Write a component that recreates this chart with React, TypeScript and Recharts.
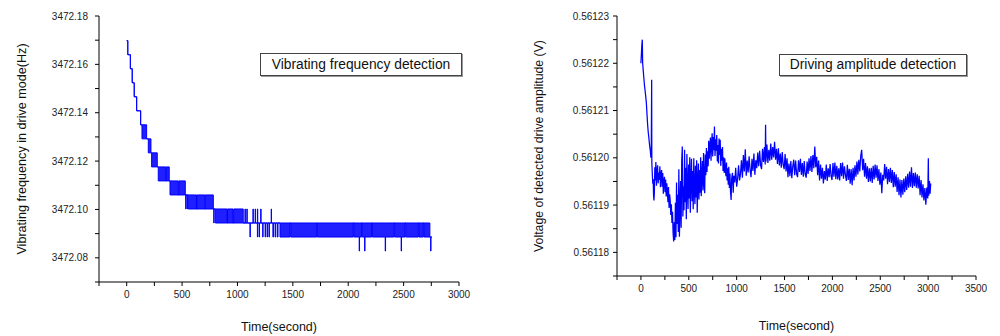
import React from 'react';
import { ComposedChart, Area, Line, XAxis, YAxis } from 'recharts';

const FONT = '"Liberation Sans", Arial, Helvetica, sans-serif';
const BLUE = '#0000ff';

// quantised frequency levels seen in the left trace (Hz)
const freqLevels = [
  3472.1698, 3472.164, 3472.1582, 3472.1524, 3472.1466, 3472.1408, 3472.135, 3472.1292,
  3472.1234, 3472.1176, 3472.1118, 3472.106, 3472.1002, 3472.0944, 3472.0886, 3472.0828,
];

// [time (s), low level index, high level index] - the reading toggles between low and high
const freqSteps: [number, number, number][] = [
  [0, 0, 0], [10, 1, 1], [33, 2, 2], [50, 3, 3], [68, 4, 4], [90, 5, 5], [126, 6, 6],
  [138, 7, 6], [180, 7, 7], [195, 8, 7], [219, 8, 8], [225, 9, 8], [276, 9, 9],
  [285, 10, 9], [352, 10, 10], [358, 10, 9], [384, 10, 10],
  [391, 11, 10], [466, 11, 11], [472, 11, 10], [529, 11, 11],
  [533, 12, 11], [535, 11, 11], [545, 12, 11], [548, 11, 11], [556, 12, 11],
  [630, 12, 12], [636, 12, 11], [705, 12, 12], [710, 12, 11], [782, 12, 12],
  [786, 13, 12], [789, 12, 12], [800, 13, 12], [905, 13, 13], [910, 13, 12],
  [960, 13, 13], [966, 13, 12], [1052, 13, 13],
  [1068, 13, 12], [1071, 13, 13], [1085, 13, 12], [1088, 13, 13], [1113, 14, 13], [1116, 13, 13],
  [1140, 13, 12], [1143, 13, 13], [1160, 13, 12], [1163, 13, 13], [1180, 14, 12], [1183, 13, 13],
  [1196, 14, 13], [1199, 13, 13], [1210, 13, 12], [1213, 13, 13], [1228, 14, 13], [1231, 13, 13],
  [1250, 14, 13], [1254, 13, 13], [1268, 14, 13], [1272, 13, 13], [1285, 14, 13], [1288, 13, 13],
  [1305, 13, 12], [1307, 13, 13], [1320, 14, 13], [1325, 13, 13], [1340, 14, 13], [1345, 13, 13],
  [1360, 14, 13], [1366, 13, 13], [1384, 14, 13],
  [1474, 13, 13], [1481, 14, 13], [1715, 13, 13], [1721, 14, 13], [2045, 13, 13], [2051, 14, 13],
  [2099, 15, 13], [2102, 14, 13], [2121, 13, 13], [2127, 14, 13], [2148, 15, 13], [2151, 14, 13],
  [2211, 13, 13], [2218, 14, 13], [2334, 15, 13], [2337, 14, 13], [2412, 13, 13], [2419, 14, 13],
  [2478, 15, 13], [2481, 14, 13], [2512, 13, 13], [2519, 14, 13], [2632, 13, 13], [2638, 14, 13],
  [2677, 13, 13], [2683, 14, 13], [2737, 14, 14], [2744, 15, 14], [2747, 14, 14], [2755, 14, 14],
];

// [time (s), detected drive amplitude (V)]
const ampReadings: [number, number][] = [
  [0, 0.56122], [5, 0.561222], [10, 0.561224], [14, 0.561225], [18, 0.56122], [24, 0.5612185],
  [30, 0.561217], [36, 0.5612155], [42, 0.5612145], [50, 0.561213], [57, 0.5612115], [64, 0.561209],
  [70, 0.561207], [76, 0.5612055], [84, 0.561204], [91, 0.5612025], [98, 0.5612015], [104, 0.5612],
  [108, 0.561201], [112, 0.5612165], [114, 0.561199], [119, 0.5611965], [124, 0.5611945], [128, 0.5611955],
  [132, 0.561192], [136, 0.561191], [140, 0.5611925], [145, 0.561198], [150, 0.5611952], [156, 0.5611991],
  [162, 0.5611941], [168, 0.561197], [174, 0.5611984], [180, 0.5611946], [186, 0.5611969], [192, 0.5611953],
  [198, 0.5611982], [204, 0.5611938], [210, 0.5611965], [216, 0.5611974], [222, 0.5611939], [228, 0.5611968],
  [234, 0.5611924], [240, 0.5611951], [246, 0.561196], [252, 0.5611927], [258, 0.5611954], [264, 0.5611918],
  [270, 0.5611946], [276, 0.5611929], [282, 0.5611906], [288, 0.5611938], [294, 0.5611894], [300, 0.5611923],
  [306, 0.5611909], [312, 0.5611879], [318, 0.5611902], [324, 0.5611862], [330, 0.5611886], [336, 0.5611841],
  [342, 0.5611823], [348, 0.5611864], [354, 0.5611826], [360, 0.5611905], [366, 0.5611832], [372, 0.5611948],
  [378, 0.561186], [384, 0.5611922], [390, 0.5611843], [396, 0.5611976], [402, 0.5611833], [408, 0.5611898],
  [414, 0.5611951], [420, 0.5611852], [426, 0.5611994], [432, 0.5612024], [438, 0.5611876], [444, 0.561194],
  [450, 0.5611889], [456, 0.5612017], [462, 0.5611906], [468, 0.5611979], [474, 0.561187], [480, 0.5612008],
  [486, 0.5611935], [492, 0.5611892], [498, 0.5611986], [504, 0.5611914], [510, 0.5612001], [516, 0.5611884],
  [522, 0.5611956], [528, 0.5611998], [534, 0.5611908], [540, 0.5611972], [546, 0.5611891], [552, 0.5611999],
  [558, 0.5611934], [564, 0.5611902], [570, 0.5611983], [576, 0.5611916], [582, 0.5611995], [588, 0.5611884],
  [594, 0.5611949], [600, 0.5611988], [606, 0.5611912], [612, 0.5611974], [618, 0.5611926], [624, 0.5612001],
  [630, 0.5611919], [636, 0.5611962], [642, 0.5611993], [648, 0.5611931], [654, 0.561201], [660, 0.5611946],
  [666, 0.5611925], [672, 0.5612007], [678, 0.5611963], [684, 0.5612021], [690, 0.561197], [696, 0.5612014],
  [702, 0.5611982], [708, 0.5612036], [714, 0.5611998], [720, 0.5612025], [726, 0.5612043], [732, 0.5611994],
  [738, 0.561203], [744, 0.5612052], [750, 0.5612003], [756, 0.5612044], [762, 0.5612016], [768, 0.5612066],
  [774, 0.5612004], [780, 0.5612039], [786, 0.5612015], [792, 0.5612048], [798, 0.5611992], [804, 0.5612027],
  [810, 0.5611988], [816, 0.5612041], [822, 0.5612006], [828, 0.5612038], [834, 0.5611983], [840, 0.5612019],
  [846, 0.5611994], [852, 0.5612023], [858, 0.5611972], [864, 0.5612001], [870, 0.5611968], [876, 0.5611999],
  [882, 0.5611975], [888, 0.5611961], [894, 0.561199], [900, 0.5611952], [906, 0.5611978], [912, 0.5611943],
  [918, 0.5611981], [924, 0.5611936], [930, 0.5611967], [936, 0.5611928], [942, 0.5611911], [948, 0.5611956],
  [956, 0.5611968], [964, 0.5611926], [970, 0.5611962], [980, 0.5611948], [990, 0.5611979], [1000, 0.5611939],
  [1010, 0.5611956], [1020, 0.5611984], [1030, 0.5611952], [1040, 0.5611966], [1050, 0.5611995], [1060, 0.5611958],
  [1070, 0.5612006], [1080, 0.5611971], [1090, 0.5612018], [1100, 0.5611962], [1110, 0.5611994], [1120, 0.5611969],
  [1130, 0.5612003], [1140, 0.5611975], [1150, 0.5611959], [1160, 0.5611998], [1170, 0.5611972], [1180, 0.5612009],
  [1190, 0.5611964], [1200, 0.5611995], [1210, 0.5611978], [1220, 0.5612011], [1230, 0.5611982], [1240, 0.5612015],
  [1250, 0.5611984], [1260, 0.5611976], [1270, 0.5612019], [1280, 0.5611991], [1290, 0.5612023], [1298, 0.5611986],
  [1302, 0.561207], [1306, 0.5611992], [1316, 0.5612028], [1326, 0.5611989], [1336, 0.5612017], [1346, 0.5611994],
  [1356, 0.561203], [1366, 0.5611996], [1376, 0.5612023], [1386, 0.5612001], [1396, 0.5612034], [1406, 0.5611996],
  [1416, 0.5612019], [1426, 0.5611987], [1436, 0.561202], [1446, 0.5611984], [1456, 0.5612009], [1466, 0.5611979],
  [1476, 0.5612012], [1486, 0.5611985], [1496, 0.5611976], [1506, 0.5612008], [1516, 0.5611971], [1526, 0.5611999],
  [1536, 0.5611959], [1546, 0.5611988], [1556, 0.5611961], [1566, 0.5611993], [1576, 0.5611957], [1586, 0.5611982],
  [1596, 0.5611996], [1606, 0.5611963], [1616, 0.5611994], [1626, 0.5611966], [1636, 0.5611959], [1646, 0.5611995],
  [1656, 0.561197], [1666, 0.5611998], [1676, 0.5611964], [1686, 0.5611989], [1696, 0.561196], [1706, 0.5611993],
  [1716, 0.5611965], [1726, 0.5611958], [1736, 0.5611992], [1746, 0.5611966], [1756, 0.5611999], [1766, 0.5611972],
  [1776, 0.5612004], [1786, 0.561197], [1796, 0.5612006], [1806, 0.5611978], [1816, 0.5612024], [1826, 0.561198],
  [1836, 0.5612002], [1846, 0.5611963], [1856, 0.5611994], [1866, 0.5611952], [1876, 0.5611986], [1886, 0.5611956],
  [1896, 0.5611979], [1906, 0.5611946], [1916, 0.5611972], [1926, 0.5611954], [1936, 0.5611986], [1946, 0.5611951],
  [1956, 0.5611978], [1966, 0.5611959], [1976, 0.5611987], [1986, 0.5611962], [1996, 0.5611953], [2006, 0.5611989],
  [2016, 0.561196], [2026, 0.561199], [2036, 0.5611955], [2046, 0.5611983], [2056, 0.5611954], [2066, 0.5611978],
  [2076, 0.5611952], [2086, 0.5611989], [2096, 0.5611961], [2106, 0.561199], [2116, 0.5611956], [2126, 0.5611982],
  [2136, 0.5611964], [2146, 0.5611951], [2156, 0.5611985], [2166, 0.5611953], [2176, 0.5611977], [2186, 0.5611945],
  [2196, 0.5611976], [2206, 0.5611942], [2216, 0.5611979], [2226, 0.5611952], [2236, 0.5611984], [2246, 0.561196],
  [2256, 0.5611992], [2266, 0.5611965], [2276, 0.5611996], [2286, 0.5611971], [2296, 0.5612004], [2306, 0.5612017],
  [2316, 0.5611974], [2326, 0.5611998], [2336, 0.561196], [2346, 0.5611989], [2356, 0.5611956], [2366, 0.5611982],
  [2376, 0.5611949], [2386, 0.5611978], [2396, 0.561195], [2406, 0.5611979], [2416, 0.5611947], [2426, 0.5611983],
  [2436, 0.5611954], [2446, 0.5611986], [2456, 0.5611958], [2466, 0.5611984], [2476, 0.5611951], [2486, 0.5611976],
  [2496, 0.5611943], [2506, 0.5611969], [2516, 0.5611925], [2526, 0.5611964], [2536, 0.5611952], [2546, 0.5611987],
  [2556, 0.5611956], [2566, 0.5611981], [2576, 0.5611944], [2586, 0.5611976], [2596, 0.5611949], [2606, 0.5611979],
  [2616, 0.5611947], [2626, 0.5611974], [2636, 0.5611938], [2646, 0.561197], [2656, 0.5611939], [2666, 0.5611965],
  [2676, 0.5611928], [2686, 0.5611959], [2696, 0.5611921], [2706, 0.5611954], [2716, 0.5611916], [2726, 0.5611953],
  [2736, 0.5611922], [2746, 0.5611956], [2756, 0.5611927], [2766, 0.5611961], [2776, 0.5611932], [2786, 0.5611966],
  [2796, 0.5611937], [2806, 0.5611971], [2816, 0.5611939], [2826, 0.561198], [2836, 0.5611936], [2846, 0.5611968],
  [2856, 0.561194], [2866, 0.5611969], [2876, 0.5611937], [2886, 0.5611965], [2896, 0.5611935], [2906, 0.5611962],
  [2916, 0.5611921], [2926, 0.5611953], [2936, 0.5611916], [2946, 0.5611944], [2956, 0.561191], [2966, 0.5611936],
  [2976, 0.5611901], [2986, 0.5611937], [2996, 0.5611914], [3002, 0.5611999], [3006, 0.561192], [3014, 0.5611951],
  [3020, 0.5611924], [3027, 0.5611946],
];

const freqTicksX = [-250, 0, 250, 500, 750, 1000, 1250, 1500, 1750, 2000, 2250, 2500, 2750, 3000];
const freqTicksY = [
  3472.07, 3472.08, 3472.09, 3472.1, 3472.11, 3472.12, 3472.13, 3472.14, 3472.15, 3472.16, 3472.17, 3472.18,
];
const ampTicksX = [-250, 0, 250, 500, 750, 1000, 1250, 1500, 1750, 2000, 2250, 2500, 2750, 3000, 3250, 3500];
const ampTicksY = [
  0.561175, 0.56118, 0.561185, 0.56119, 0.561195, 0.5612, 0.561205, 0.56121, 0.561215, 0.56122, 0.561225, 0.56123,
];

const freqData = freqSteps.map(([t, lo, hi]) => ({ t, band: [freqLevels[lo], freqLevels[hi]] }));
const ampData = ampReadings.map(([t, v]) => ({ t, v }));

const timeLabel = (v: number) => (v % 500 === 0 ? String(v) : '');
const freqLabel = (v: number) => (Math.round(v * 100) % 2 === 0 ? v.toFixed(2) : '');
const ampLabel = (v: number) => (Math.round(v * 1e6) % 10 === 0 ? v.toFixed(5) : '');

const TitleBox: React.FC<{ text: string; left: number; top: number; width: number; height: number }> = ({
  text,
  left,
  top,
  width,
  height,
}) => (
  <div
    style={{
      position: 'absolute',
      left,
      top,
      width,
      height,
      boxSizing: 'border-box',
      border: '1px solid #444',
      boxShadow: '1px 1px 0 #999',
      background: '#fff',
      fontSize: 13.8,
      color: '#111',
      lineHeight: `${height - 2}px`,
      textAlign: 'center',
      whiteSpace: 'nowrap',
    }}
  >
    {text}
  </div>
);

export default function App() {
  return (
    <div
      style={{
        position: 'fixed',
        left: 0,
        top: 0,
        width: 1000,
        height: 336,
        background: '#fff',
        fontFamily: FONT,
        overflow: 'hidden',
      }}
    >
      <div style={{ position: 'absolute', left: 0, top: 0 }}>
        <ComposedChart width={480} height={336} data={freqData} margin={{ top: 16, right: 21, bottom: 0, left: 0 }}>
          <XAxis
            dataKey="t"
            type="number"
            domain={[-250, 3000]}
            ticks={freqTicksX}
            interval={0}
            allowDataOverflow
            tickFormatter={timeLabel}
            height={54}
            stroke="#000"
            tickSize={4}
            tickMargin={5}
            tick={{ fontSize: 10, fill: '#222' }}
            label={{ value: 'Time(second)', position: 'insideBottom', offset: 5, style: { fontSize: 12.5, fill: '#111' } }}
          />
          <YAxis
            type="number"
            domain={[3472.07, 3472.18]}
            ticks={freqTicksY}
            interval={0}
            allowDataOverflow
            tickFormatter={freqLabel}
            width={99}
            stroke="#000"
            tickSize={4}
            tickMargin={7}
            tick={{ fontSize: 10, fill: '#222' }}
            label={{
              value: 'Vibrating frequency in drive mode(Hz)',
              angle: -90,
              position: 'insideLeft',
              offset: 22,
              style: { textAnchor: 'middle', fontSize: 12.6, fill: '#111' },
            }}
          />
          <Area
            dataKey="band"
            type="stepAfter"
            stroke={BLUE}
            strokeWidth={1}
            fill={BLUE}
            fillOpacity={0.88}
            dot={false}
            activeDot={false}
            isAnimationActive={false}
          />
        </ComposedChart>
      </div>
      <TitleBox text="Vibrating frequency detection" left={260} top={53} width={202} height={23} />

      <div style={{ position: 'absolute', left: 500, top: 0 }}>
        <ComposedChart width={500} height={336} data={ampData} margin={{ top: 16, right: 24, bottom: 0, left: 0 }}>
          <XAxis
            dataKey="t"
            type="number"
            domain={[-250, 3500]}
            ticks={ampTicksX}
            interval={0}
            allowDataOverflow
            tickFormatter={timeLabel}
            height={60}
            stroke="#000"
            tickSize={4}
            tickMargin={5}
            tick={{ fontSize: 10, fill: '#222' }}
            label={{ value: 'Time(second)', position: 'insideBottom', offset: 6, style: { fontSize: 12.4, fill: '#111' } }}
          />
          <YAxis
            type="number"
            domain={[0.561175, 0.56123]}
            ticks={ampTicksY}
            interval={0}
            allowDataOverflow
            tickFormatter={ampLabel}
            width={117}
            stroke="#000"
            tickSize={4}
            tickMargin={4}
            tick={{ fontSize: 10, fill: '#222' }}
            label={{
              value: 'Voltage of detected drive amplitude (V)',
              angle: -90,
              position: 'insideLeft',
              offset: 39,
              style: { textAnchor: 'middle', fontSize: 12.3, fill: '#111' },
            }}
          />
          <Line
            dataKey="v"
            type="linear"
            stroke={BLUE}
            strokeWidth={1.25}
            dot={false}
            activeDot={false}
            isAnimationActive={false}
          />
        </ComposedChart>
      </div>
      <TitleBox text="Driving amplitude detection" left={779} top={54} width={188} height={22} />
    </div>
  );
}
